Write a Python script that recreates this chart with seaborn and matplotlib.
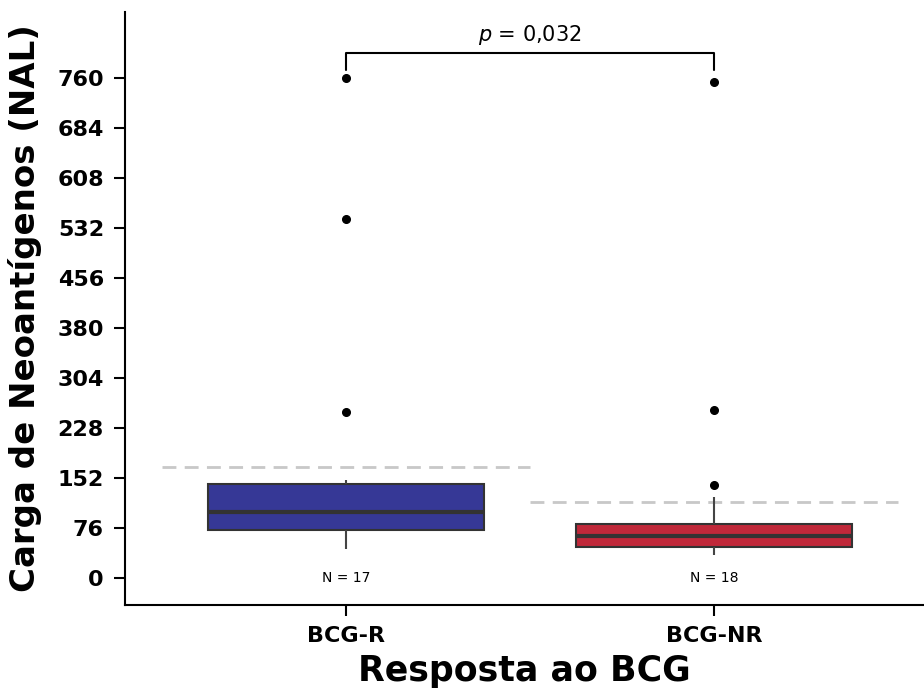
import matplotlib
matplotlib.use("Agg")
import matplotlib.pyplot as plt
import seaborn as sns
import numpy as np
import pandas as pd

# data
groups = ["BCG-R", "BCG-NR"]
bcg_r = [45, 52, 60, 68, 74, 80, 88, 95, 100, 110, 125, 138, 144, 149, 253, 546, 759]
bcg_nr = [35, 38, 41, 44, 47, 47, 52, 58, 64, 66, 70, 75, 82, 83, 124, 141, 256, 754]
colors = ["#363896", "#c0283a"]
yticks = [0, 76, 152, 228, 304, 380, 456, 532, 608, 684, 760]
p_text = "$p$ = 0,032"

df = pd.DataFrame({
    "grupo": ["BCG-R"] * len(bcg_r) + ["BCG-NR"] * len(bcg_nr),
    "nal": bcg_r + bcg_nr,
})

sns.set_style("white")
plt.rcParams["font.family"] = ["DejaVu Sans"]
plt.rcParams["text.color"] = "black"
plt.rcParams["axes.labelcolor"] = "black"
plt.rcParams["xtick.color"] = "black"
plt.rcParams["ytick.color"] = "black"

fig = plt.figure(figsize=(9.24, 6.88), dpi=100)
ax = fig.add_axes([0.135, 0.121, 0.865, 0.862])

sns.boxplot(data=df, x="grupo", y="nal", hue="grupo", order=groups, hue_order=groups,
            palette=colors, width=0.75, linewidth=1.5, linecolor="#333333",
            saturation=1, legend=False, ax=ax,
            whiskerprops=dict(color="#444444", linewidth=1.5),
            capprops=dict(linewidth=0),
            medianprops=dict(color="#333333", linewidth=3),
            flierprops=dict(marker="o", markerfacecolor="black", markeredgecolor="black",
                            markersize=5.5))

# mean lines
for i, vals in enumerate([bcg_r, bcg_nr]):
    ax.plot([i - 0.5, i + 0.5], [np.mean(vals)] * 2, ls=(0, (5, 3)), color="#c8c8c8",
            lw=2, zorder=0)
    ax.text(i, 0, f"N = {len(vals)}", ha="center", va="center", fontsize=10)

# significance bracket
ax.plot([0, 0, 1, 1], [772, 798, 798, 772], color="black", lw=1.5)
ax.text(0.5, 806, p_text, ha="center", va="bottom", fontsize=15)

ax.set_xlim(-0.6, 1.57)
ax.set_ylim(-40, 860)
ax.set_yticks(yticks)
ax.set_yticklabels([str(t) for t in yticks], fontweight="bold", fontsize=16)
ax.set_xticks([0, 1])
ax.set_xticklabels(groups, fontweight="bold", fontsize=16)
ax.set_xlabel("Resposta ao BCG", fontweight="bold", fontsize=25, labelpad=6)
ax.set_ylabel("Carga de Neoantígenos (NAL)", fontweight="bold", fontsize=24.5, labelpad=11)
ax.tick_params(axis="both", length=8, width=1.5, direction="out", bottom=True, left=True,
               pad=7)
sns.despine(ax=ax)
for s in ["left", "bottom"]:
    ax.spines[s].set_linewidth(1.5)
    ax.spines[s].set_color("black")

fig.savefig("out.png", dpi=100)
